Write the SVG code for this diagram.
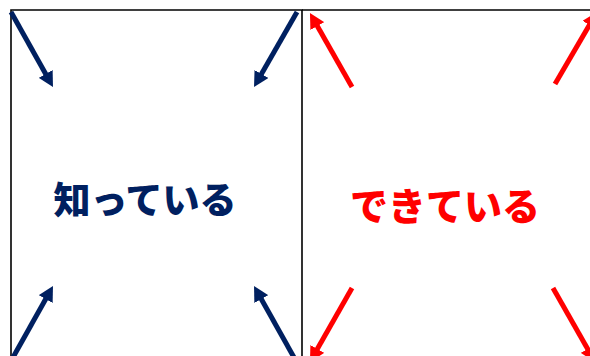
<svg xmlns="http://www.w3.org/2000/svg" width="590" height="356" viewBox="0 0 590 356">
<style>
.frame{fill:none;stroke:#000000;stroke-width:1.6}
.nv{stroke:#002060;stroke-width:5;fill:none;marker-end:url(#hn)}
.rd{stroke:#ff0000;stroke-width:5;fill:none;marker-end:url(#hr)}
.lbl{font-family:"Noto Sans CJK JP","Noto Sans",sans-serif;font-weight:900;text-anchor:middle}
</style>
<defs>
<marker id="hn" viewBox="0 0 15 16" markerUnits="userSpaceOnUse" markerWidth="15" markerHeight="16" refX="5" refY="8" orient="auto"><path d="M0,0 L15,8 L0,16 z" fill="#002060"/></marker>
<marker id="hr" viewBox="0 0 15 16" markerUnits="userSpaceOnUse" markerWidth="15" markerHeight="16" refX="5" refY="8" orient="auto"><path d="M0,0 L15,8 L0,16 z" fill="#ff0000"/></marker>
</defs>
<rect width="590" height="356" fill="#ffffff"/>
<g id="panel-left">
<path class="frame" d="M11,360 V10 H302 V360"/>
<text class="lbl" x="145" y="214" font-size="37" fill="#002060">知っている</text>
</g>
<g id="panel-right">
<path class="frame" d="M302,10 H592"/>
<text class="lbl" x="445" y="220" font-size="38" fill="#ff0000">できている</text>
</g>
<g id="connectors">
<line class="nv" x1="11" y1="12" x2="48.1" y2="78.3"/>
<line class="nv" x1="297" y1="12" x2="259" y2="78.3"/>
<line class="nv" x1="11" y1="361" x2="48.1" y2="294.7"/>
<line class="nv" x1="296" y1="361" x2="258.9" y2="294.7"/>
<line class="rd" x1="352" y1="87" x2="314.9" y2="21.7"/>
<line class="rd" x1="555" y1="84" x2="592" y2="20.6"/>
<line class="rd" x1="352" y1="288" x2="314.9" y2="353.3"/>
<line class="rd" x1="553" y1="288" x2="590.1" y2="353.3"/>
</g>
</svg>
